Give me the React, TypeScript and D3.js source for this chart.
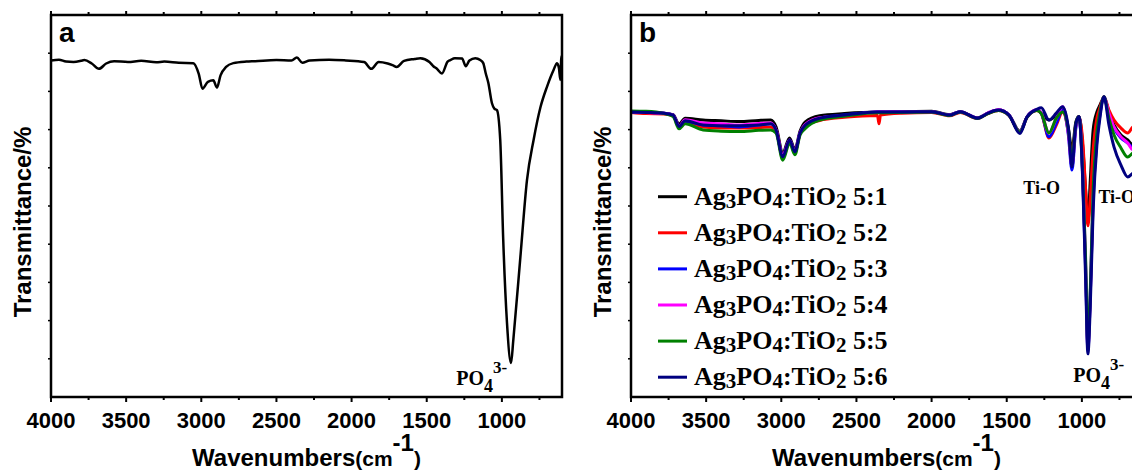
import React from 'react';
import * as d3 from 'd3';

// panel a: pure Ag3PO4
const wnA = [4000, 3947, 3900, 3850, 3800, 3778, 3729, 3681, 3633, 3580, 3488, 3400, 3300, 3246, 3150, 3053, 3017, 2992, 2956, 2920, 2896, 2872, 2835, 2787, 2700, 2642, 2500, 2400, 2364, 2328, 2279, 2150, 2038, 1917, 1869, 1820, 1760, 1724, 1700, 1651, 1580, 1543, 1482, 1456, 1434, 1399, 1361, 1343, 1313, 1265, 1240, 1216, 1177, 1144, 1124, 1108, 1090, 1066, 1050, 1033, 1011, 991, 966, 939, 924, 877, 833, 789, 743, 700, 656, 633, 620, 611, 605, 600];
const tA = [88.1, 88.3, 87.8, 87.7, 88.0, 88.2, 87.3, 85.9, 87.3, 87.9, 87.7, 88.0, 87.6, 87.8, 87.5, 87.4, 84.6, 80.7, 82.5, 82.9, 81.0, 84.2, 86.4, 87.4, 87.8, 87.9, 88.2, 88.1, 88.9, 87.5, 88.1, 88.3, 88.1, 87.7, 85.9, 87.7, 87.3, 86.8, 86.4, 88.0, 88.5, 88.7, 87.7, 86.6, 86.0, 84.7, 87.8, 88.2, 88.7, 88.6, 86.6, 88.1, 88.7, 88.2, 87.4, 84.8, 82.2, 76.9, 75.5, 75.1, 67.3, 41.1, 19.4, 8.9, 14.9, 36.6, 56.8, 67.3, 75.9, 81.2, 85.6, 87.4, 86.0, 83.0, 88.5, 89.3];

// panel b: composites
const wnB = [4000, 3900, 3780, 3720, 3680, 3640, 3520, 3400, 3280, 3150, 3070, 3035, 2990, 2945, 2910, 2875, 2840, 2745, 2580, 2360, 2350, 2340, 2200, 2000, 1880, 1810, 1695, 1625, 1555, 1485, 1413, 1365, 1300, 1270, 1219, 1170, 1128, 1090, 1066, 1040, 1019, 995, 975, 960, 945, 925, 900, 880, 853, 820, 786, 740, 695, 660, 600];
const t51 = [74.7, 74.5, 74.3, 73.9, 71.5, 73.0, 72.5, 72.3, 72.1, 72.4, 72.5, 70.7, 64.0, 67.8, 64.8, 69.6, 72.0, 73.6, 74.2, 74.6, 74.6, 74.6, 74.7, 74.8, 73.9, 74.7, 73.1, 74.3, 75.1, 73.8, 69.6, 73.3, 75.1, 74.3, 72.5, 73.8, 75.7, 70.4, 64.7, 72.0, 73.4, 66.0, 54.0, 45.5, 56.0, 69.9, 74.6, 76.4, 78.3, 74.6, 71.2, 68.6, 67.3, 66.0, 67.3];
const t52 = [74.5, 74.2, 74.1, 73.6, 70.8, 72.0, 70.7, 70.4, 70.4, 70.5, 70.7, 69.9, 62.5, 67.0, 64.0, 68.9, 71.0, 72.4, 73.2, 73.7, 71.5, 73.8, 74.3, 74.5, 73.6, 74.5, 72.9, 74.2, 75.0, 73.7, 69.4, 73.2, 75.0, 74.2, 67.8, 71.2, 74.6, 69.4, 62.6, 71.2, 73.4, 67.3, 54.2, 44.8, 51.6, 64.7, 73.0, 75.7, 78.6, 75.1, 72.5, 70.4, 69.1, 70.7, 71.2];
const t53 = [74.6, 74.5, 74.3, 73.8, 70.8, 72.2, 71.2, 71.0, 70.7, 71.2, 71.5, 69.9, 63.0, 67.3, 64.2, 69.1, 71.2, 73.0, 73.8, 74.6, 74.6, 74.6, 74.6, 74.7, 73.8, 74.7, 73.0, 74.3, 75.1, 73.8, 69.5, 73.3, 75.1, 74.3, 68.1, 71.7, 75.1, 68.6, 59.4, 70.4, 73.4, 58.1, 33.2, 12.3, 25.4, 51.6, 67.3, 73.8, 78.6, 73.8, 70.4, 67.8, 66.5, 65.4, 66.0];
const t54 = [74.8, 74.5, 74.3, 73.8, 70.9, 72.6, 71.7, 71.5, 71.2, 71.6, 71.7, 69.9, 63.2, 67.3, 64.3, 69.1, 71.4, 73.1, 73.6, 74.6, 74.6, 74.6, 74.6, 74.7, 73.8, 74.7, 73.0, 74.4, 75.2, 73.8, 69.5, 73.3, 75.2, 74.4, 69.1, 73.0, 76.0, 69.1, 60.7, 70.9, 73.4, 59.4, 34.6, 12.8, 25.4, 52.9, 68.6, 74.3, 78.6, 74.3, 70.7, 68.1, 66.5, 64.7, 65.2];
const t55 = [74.9, 74.8, 74.2, 73.4, 70.2, 71.5, 69.9, 69.6, 69.5, 69.8, 69.9, 69.1, 62.0, 66.5, 63.4, 68.6, 70.3, 72.5, 73.5, 74.4, 74.4, 74.4, 74.5, 74.6, 73.7, 74.6, 72.9, 74.2, 75.0, 73.7, 69.4, 73.2, 75.0, 74.2, 69.1, 73.0, 74.6, 69.9, 62.0, 71.5, 73.4, 58.9, 35.9, 13.6, 26.7, 54.2, 69.4, 74.6, 78.6, 73.0, 68.6, 65.2, 62.8, 63.9, 64.7];
const t56 = [74.6, 74.5, 74.3, 73.8, 70.8, 72.3, 71.2, 71.0, 71.0, 71.2, 71.5, 69.9, 62.9, 67.3, 64.2, 69.1, 71.2, 73.0, 73.8, 74.6, 74.6, 74.6, 74.6, 74.7, 73.8, 74.7, 73.0, 74.3, 75.1, 73.8, 69.0, 73.3, 75.3, 75.7, 72.5, 74.3, 76.0, 70.4, 60.2, 71.5, 73.4, 57.3, 30.6, 11.3, 22.8, 49.0, 66.0, 73.0, 78.6, 71.2, 65.4, 60.7, 57.6, 58.6, 59.4];

const ratios = ['5:1', '5:2', '5:3', '5:4', '5:5', '5:6'];
const seriesB = [t51, t52, t53, t54, t55, t56];
const colors = ['#000000', '#ff0000', '#0000ff', '#ff00ff', '#008000', '#000080'];

const majorTicks = [4000, 3500, 3000, 2500, 2000, 1500, 1000];
const minorTicks = [3750, 3250, 2750, 2250, 1750, 1250, 750];
const yTicks = [10, 20, 30, 40, 50, 60, 70, 80, 90];

const SANS = 'Liberation Sans, Arial, sans-serif';
const SERIF = 'Liberation Serif, Times New Roman, serif';
const W = 1132, H = 470;
const top = 15, bottom = 397, plotW = 511;

function Panel({left, letter, children}: {left: number; letter: string; children: (x: any, y: any) => React.ReactNode}) {
  const x = d3.scaleLinear().domain([4000, 600]).range([left, left + plotW]);
  const y = d3.scaleLinear().domain([0, 100]).range([bottom, top]);
  const cx = left + plotW / 2;
  return (
    <g>
      {children(x, y)}
      <rect x={left} y={top} width={plotW} height={bottom - top} fill="none" stroke="#000" strokeWidth={2.5} />
      {majorTicks.map(t => (
        <g key={'M' + t}>
          <line x1={x(t)} x2={x(t)} y1={bottom} y2={bottom + 5} stroke="#000" strokeWidth={2} />
          <line x1={x(t)} x2={x(t)} y1={top} y2={top - 4} stroke="#000" strokeWidth={2} />
          <text x={x(t)} y={428} textAnchor="middle" fontFamily={SANS} fontWeight="bold" fontSize={22}>{t}</text>
        </g>
      ))}
      {minorTicks.map(t => (
        <g key={'m' + t}>
          <line x1={x(t)} x2={x(t)} y1={bottom} y2={bottom + 3} stroke="#000" strokeWidth={2} />
          <line x1={x(t)} x2={x(t)} y1={top} y2={top - 3} stroke="#000" strokeWidth={2} />
        </g>
      ))}
      {yTicks.map(t => (
        <line key={'y' + t} x1={left} x2={left - 3} y1={y(t)} y2={y(t)} stroke="#000" strokeWidth={1.5} />
      ))}
      <text x={left + 8} y={42} fontFamily={SANS} fontWeight="bold" fontSize={28}>{letter}</text>
      <text x={cx} y={466} textAnchor="middle" fontFamily={SANS} fontWeight="bold" fontSize={24}>
        Wavenumbers<tspan fontSize={21}>(cm</tspan><tspan dy={-15}>-1</tspan><tspan dy={15} fontSize={21}>)</tspan>
      </text>
      <text transform={`translate(${left - 20},222) rotate(-90)`} textAnchor="middle" fontFamily={SANS} fontWeight="bold" fontSize={24}>Transmittance/%</text>
    </g>
  );
}

function PO4({x, y}: {x: number; y: number}) {
  return (
    <text x={x} y={y} fontFamily={SERIF} fontWeight="bold" fontSize={20}>
      PO<tspan fontSize={18} dy={7}>4</tspan><tspan fontSize={17} dy={-19}>3-</tspan>
    </text>
  );
}

export default function App() {
  const lineFor = (x: any, y: any, wn: number[]) =>
    d3.line<number>().x((_, i) => x(wn[i])).y(d => y(d)).curve(d3.curveMonotoneX);

  return (
    <svg width={W} height={H} style={{position: 'absolute', left: 0, top: 0, background: '#fff'}}>
      <Panel left={51} letter="a">
        {(x, y) => (
          <g>
            <path d={lineFor(x, y, wnA)(tA) || ''} fill="none" stroke="#000" strokeWidth={2.5} strokeLinejoin="round" />
            <PO4 x={x(1303)} y={y(3.1)} />
          </g>
        )}
      </Panel>
      <Panel left={631} letter="b">
        {(x, y) => (
          <g>
            {seriesB.map((s, i) => (
              <path key={i} d={lineFor(x, y, wnB)(s) || ''} fill="none" stroke={colors[i]} strokeWidth={3} strokeLinejoin="round" />
            ))}
            <text x={x(1390)} y={y(53.1)} fontFamily={SERIF} fontWeight="bold" fontSize={18}>Ti-O</text>
            <text x={x(890)} y={y(50.8)} fontFamily={SERIF} fontWeight="bold" fontSize={18}>Ti-O</text>
            <PO4 x={x(1057)} y={y(3.9)} />
            {ratios.map((r, i) => {
              const cy = 196.7 + i * 36.1;
              return (
                <g key={r}>
                  <line x1={658} x2={687} y1={cy} y2={cy} stroke={colors[i]} strokeWidth={3} />
                  <text x={694} y={cy + 8} fontFamily={SERIF} fontWeight="bold" fontSize={26}>
                    Ag<tspan fontSize={21} dy={3}>3</tspan><tspan dy={-3}>PO</tspan><tspan fontSize={21} dy={3}>4</tspan><tspan dy={-3}>:TiO</tspan><tspan fontSize={21} dy={3}>2</tspan><tspan dy={-3}> {r}</tspan>
                  </text>
                </g>
              );
            })}
          </g>
        )}
      </Panel>
    </svg>
  );
}
